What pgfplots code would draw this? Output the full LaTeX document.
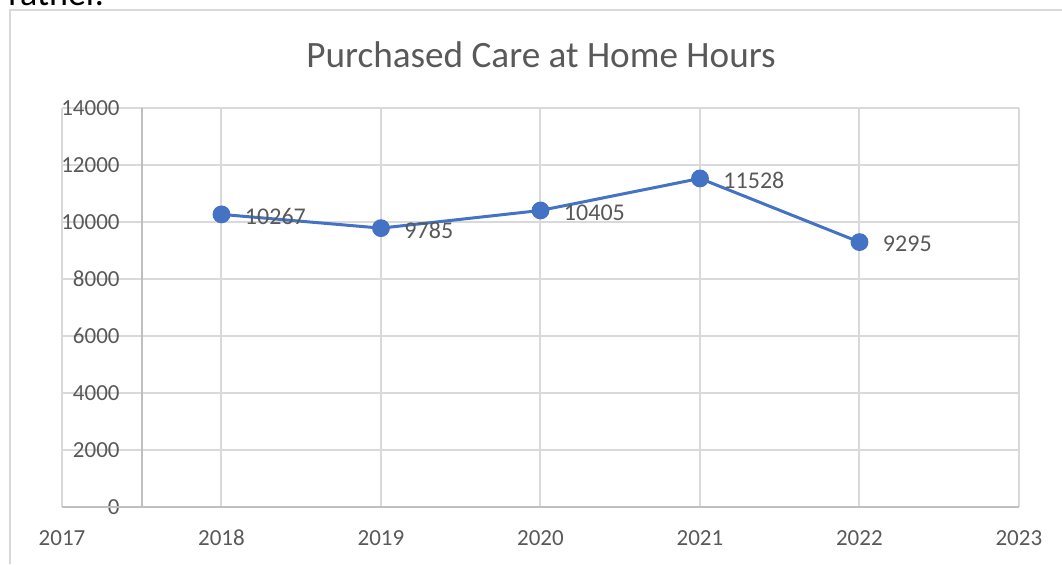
\documentclass[border=0pt]{standalone}
\usepackage{fontspec}
\setmainfont{Carlito}
\usepackage{pgfplots}
\pgfplotsset{compat=1.18}
\definecolor{cline}{HTML}{4472C4}
\definecolor{cgrid}{HTML}{D9D9D9}
\definecolor{caxis}{HTML}{BFBFBF}
\definecolor{ctext}{HTML}{595959}

\pgfplotstableread{
year hours
2018 10267
2019 9785
2020 10405
2021 11528
2022 9295
}\hourdata

\begin{document}
\begin{tikzpicture}
\useasboundingbox (0,0) rectangle (531pt,282pt);
% cropped text of the page above the chart
\node[anchor=base west, inner sep=0pt, font=\fontsize{18}{20}\selectfont] at (4pt,279.5pt) {rather.};
% chart frame
\draw[cgrid, line width=1pt] (5pt,0) -- (5pt,277pt) -- (532pt,277pt);
\node[text=ctext, font=\fontsize{18.6}{21}\selectfont] at (270.5pt,254.5pt) {Purchased Care at Home Hours};
\begin{axis}[
  at={(31pt,28.5pt)}, anchor=south west,
  scale only axis, width=478.5pt, height=199.5pt,
  xmin=2017, xmax=2023, ymin=0, ymax=14000,
  xtick={2017,...,2023}, ytick={0,2000,...,14000},
  scaled y ticks=false, scaled x ticks=false,
  grid=major, major grid style={cgrid, line width=1pt},
  axis line style={draw=none}, tick style={draw=none},
  extra x ticks={2017.5}, extra x tick labels={},
  extra x tick style={major grid style={caxis, line width=1pt}},
  extra y ticks={0}, extra y tick labels={},
  extra y tick style={major grid style={caxis, line width=1pt}},
  /pgf/number format/.cd, 1000 sep={}, assume math mode=true, /pgfplots/.cd,
  tick label style={text=ctext, font=\fontsize{11.5}{13}\selectfont},
  yticklabel style={anchor=east, inner sep=0pt, xshift=29pt},
  xticklabel style={anchor=base, inner sep=0pt, yshift=-19pt},
  clip=false,
]
\addplot[cline, line width=1.5pt, mark=*, mark size=3.7pt,
  mark options={fill=cline, draw=cline},
  nodes near coords={\pgfmathprintnumber[1000 sep={}]{\pgfplotspointmeta}},
  point meta=y,
  nodes near coords style={anchor=west, inner sep=0pt, xshift=11pt, yshift=-1pt,
    text=ctext, font=\fontsize{12}{14}\selectfont},
] table[x=year, y=hours] {\hourdata};
\end{axis}
\end{tikzpicture}
\end{document}
